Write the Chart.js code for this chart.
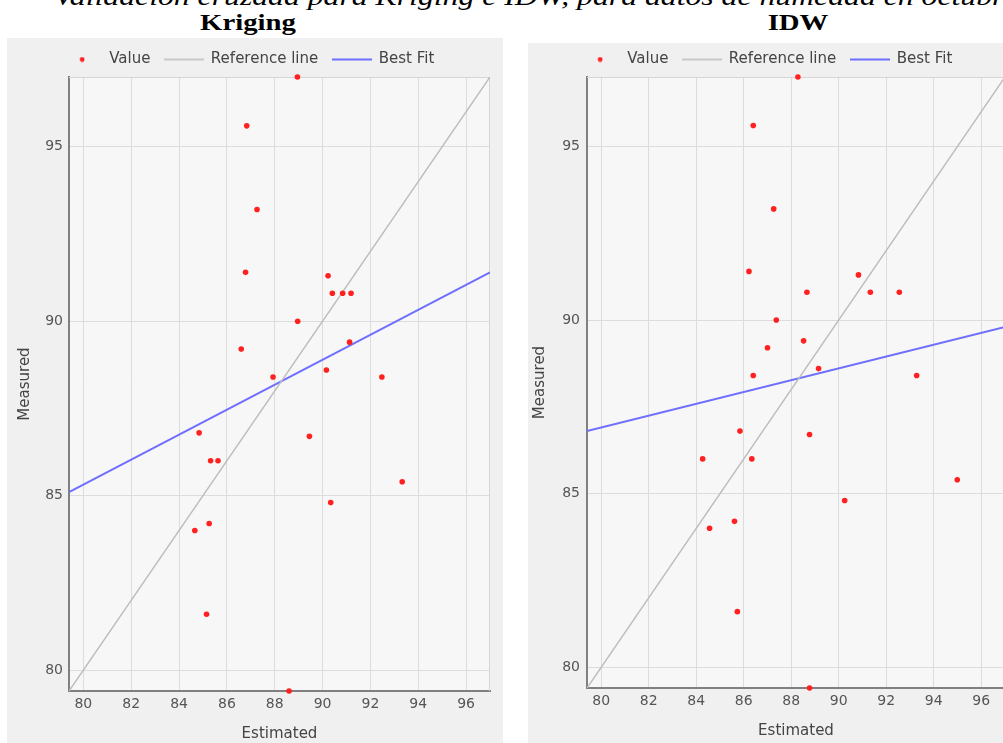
<!DOCTYPE html>
<html lang="es">
<head>
<meta charset="utf-8">
<title>Validación cruzada – Kriging e IDW</title>
<script src="https://cdn.jsdelivr.net/npm/chart.js@4.4.1/dist/chart.umd.min.js"></script>
<style>
  html, body { margin: 0; padding: 0; background: #fff; width: 1003px; height: 743px; overflow: hidden; position: relative; }
  .heading { position: absolute; font-family: "Liberation Serif", "Times New Roman", serif; color: #000; white-space: nowrap; }
  #docTitle { left: 54px; top: -16px; font-size: 26px; line-height: 26px; font-style: italic; transform: scaleX(1.22); transform-origin: 0 0; }
  .panelTitle { top: 11px; font-size: 23px; line-height: 23px; font-weight: bold; transform: translateX(-50%) scaleX(1.25); }
  .panel { position: absolute; background: #f0f0f0; }
  canvas { position: absolute; }
</style>
</head>
<body>
<div id="docTitle" class="heading">Validación cruzada para Kriging e IDW, para datos de humedad en octubre</div>
<div class="heading panelTitle" style="left:248px">Kriging</div>
<div class="heading panelTitle" style="left:798px">IDW</div>

<div class="panel" style="left:7px;top:38px;width:496px;height:705px"></div>
<div class="panel" style="left:528px;top:43px;width:490px;height:700px"></div>
<canvas id="krigingChart" width="496" height="705" style="left:7px;top:38px"></canvas>
<canvas id="idwChart" width="490" height="705" style="left:528px;top:38px"></canvas>

<script>
// humedad medida en cada estación (común a los dos métodos)
const measured = [97.0, 95.6, 93.2, 91.4, 91.3, 90.8, 90.8, 90.8, 90.0, 89.4, 89.2, 88.6,
                  88.4, 88.4, 86.8, 86.7, 86.0, 86.0, 85.4, 84.8, 84.2, 84.0, 81.6, 79.4];
// valores estimados por validación cruzada
const krigingEstimated = [88.95, 86.83, 87.26, 86.78, 90.23, 90.41, 90.84, 91.19, 88.96, 91.13, 86.60, 90.16,
                          87.93, 92.48, 84.84, 89.45, 85.32, 85.63, 93.33, 90.34, 85.26, 84.66, 85.15, 88.60];
const idwEstimated = [88.28, 86.40, 87.26, 86.22, 90.83, 88.66, 91.33, 92.55, 87.37, 88.52, 87.00, 89.15,
                      86.40, 93.28, 85.84, 88.77, 84.27, 86.34, 94.99, 90.25, 85.61, 84.56, 85.73, 88.77];
// recta de mejor ajuste: extremos [estimado, medido]
const krigingFit = [[79.4, 85.1], [97.0, 91.4]];
const idwFit = [[79.4, 86.8], [97.0, 89.8]];

const axisMin = 79.4;
const axisMax = 97.0;
const xTicks = [80, 82, 84, 86, 88, 90, 92, 94, 96];
const xTickLabels = ['80', '82', '84', '86', '88', '90', '92', '94', '96'];
const yTicks = [80, 85, 90, 95];
const yTickLabels = ['80', '85', '90', '95'];
const legendLabels = ['Value', 'Reference line', 'Best Fit'];

const RED = '#ff2020';
const REF_GRAY = '#bdbdbd';
const FIT_BLUE = '#6f6fff';

// iconos de la leyenda
function makeIcon(w, h, draw) {
    const c = document.createElement('canvas');
    c.width = w;
    c.height = h;
    draw(c.getContext('2d'));
    return c;
}
const legendIcons = [
    makeIcon(6, 6, g => { g.fillStyle = RED; g.beginPath(); g.arc(3, 3, 2.4, 0, Math.PI * 2); g.fill(); }),
    makeIcon(40, 4, g => { g.strokeStyle = REF_GRAY; g.lineWidth = 1.5; g.beginPath(); g.moveTo(0, 2); g.lineTo(40, 2); g.stroke(); }),
    makeIcon(40, 4, g => { g.strokeStyle = FIT_BLUE; g.lineWidth = 2; g.beginPath(); g.moveTo(0, 2); g.lineTo(40, 2); g.stroke(); })
];

// fondo del área de trazado y borde superior/derecho
const plotFrame = {
    id: 'plotFrame',
    beforeDraw(chart) {
        const { ctx, chartArea: a } = chart;
        ctx.save();
        ctx.fillStyle = '#f7f7f7';
        ctx.fillRect(a.left, a.top, a.width, a.height);
        ctx.restore();
    },
    beforeDatasetsDraw(chart) {
        const { ctx, chartArea: a } = chart;
        ctx.save();
        ctx.strokeStyle = '#d6d6d6';
        ctx.lineWidth = 1;
        ctx.beginPath();
        ctx.moveTo(a.left, a.top + 0.5);
        ctx.lineTo(a.right - 0.5, a.top + 0.5);
        ctx.lineTo(a.right - 0.5, a.bottom);
        ctx.stroke();
        ctx.restore();
    }
};

const tickFont = { family: 'DejaVu Sans', size: 14 };
const labelFont = { family: 'DejaVu Sans', size: 15 };

function renderChart(canvasId, estimated, fitLine, lay) {
    const points = estimated.map((e, i) => ({ x: e, y: measured[i] }));

    return new Chart(document.getElementById(canvasId), {
        type: 'scatter',
        data: {
            datasets: [{
                label: legendLabels[0],
                data: points,
                pointRadius: 2.8,
                pointBackgroundColor: RED,
                pointBorderWidth: 0,
                clip: false
            }, {
                label: legendLabels[1],
                data: [{ x: axisMin, y: axisMin }, { x: axisMax, y: axisMax }],
                showLine: true,
                pointRadius: 0,
                borderColor: REF_GRAY,
                borderWidth: 1.5
            }, {
                label: legendLabels[2],
                data: fitLine.map(p => ({ x: p[0], y: p[1] })),
                showLine: true,
                pointRadius: 0,
                borderColor: FIT_BLUE,
                borderWidth: 2
            }]
        },
        options: {
            responsive: false,
            animation: false,
            events: [],
            layout: { padding: { top: lay.padTop, right: lay.padRight, bottom: 0, left: 0 } },
            scales: {
                x: {
                    type: 'linear',
                    min: axisMin,
                    max: axisMax,
                    afterBuildTicks: s => { s.ticks = xTicks.map(v => ({ value: v })); },
                    afterFit: s => { s.height = lay.xAxisHeight; },
                    grid: { color: '#dcdcdc', lineWidth: 1, drawTicks: false },
                    border: { color: '#808080', width: 2 },
                    ticks: {
                        color: '#555',
                        font: tickFont,
                        padding: 5,
                        maxRotation: 0,
                        autoSkip: false,
                        callback: v => xTickLabels[xTicks.indexOf(v)]
                    },
                    title: {
                        display: true,
                        text: 'Estimated',
                        color: '#444',
                        font: labelFont,
                        padding: { top: 0, bottom: lay.xTitlePad }
                    }
                },
                y: {
                    type: 'linear',
                    min: axisMin,
                    max: axisMax,
                    afterBuildTicks: s => { s.ticks = yTicks.map(v => ({ value: v })); },
                    afterFit: s => { s.width = lay.yAxisWidth; },
                    grid: { color: '#dcdcdc', lineWidth: 1, drawTicks: false },
                    border: { color: '#808080', width: 2 },
                    ticks: {
                        color: '#555',
                        font: tickFont,
                        padding: lay.yTickPad,
                        autoSkip: false,
                        callback: v => yTickLabels[yTicks.indexOf(v)]
                    },
                    title: {
                        display: true,
                        text: 'Measured',
                        color: '#444',
                        font: labelFont,
                        padding: { top: lay.yTitlePad, bottom: 0 }
                    }
                }
            },
            plugins: {
                legend: {
                    position: 'top',
                    labels: {
                        usePointStyle: true,
                        pointStyleWidth: 39,
                        color: '#444',
                        font: labelFont,
                        padding: 14,
                        generateLabels: chart => {
                            const items = Chart.defaults.plugins.legend.labels.generateLabels(chart);
                            items.forEach((item, i) => { item.pointStyle = legendIcons[i]; });
                            return items;
                        }
                    }
                },
                tooltip: { enabled: false }
            }
        },
        plugins: [plotFrame]
    });
}

renderChart('krigingChart', krigingEstimated, krigingFit, {
    padTop: 0, padRight: 13, yAxisWidth: 62, xAxisHeight: 52, xTitlePad: 0, yTitlePad: 9, yTickPad: 6
});
renderChart('idwChart', idwEstimated, idwFit, {
    padTop: 0, padRight: 13, yAxisWidth: 59, xAxisHeight: 55, xTitlePad: 3, yTitlePad: 3, yTickPad: 7
});
</script>
</body>
</html>
